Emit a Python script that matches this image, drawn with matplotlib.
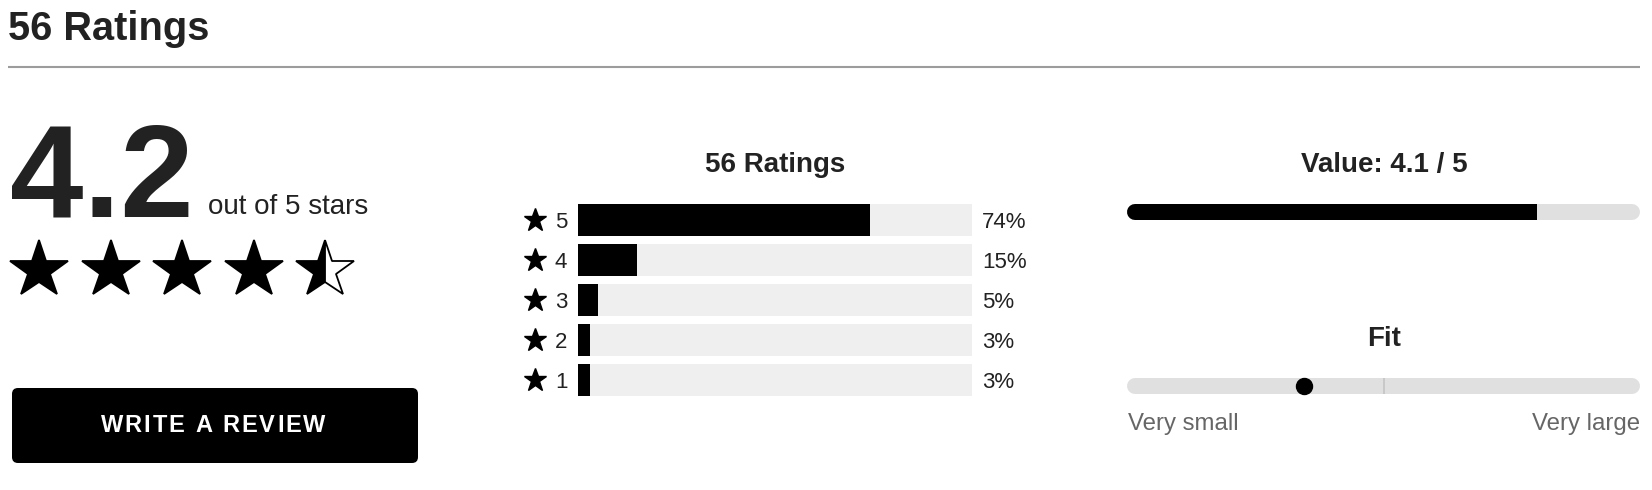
import matplotlib
matplotlib.use('Agg')
import matplotlib.pyplot as plt
from matplotlib.patches import FancyBboxPatch, Rectangle
from matplotlib.font_manager import FontProperties, findfont
from matplotlib.ft2font import FT2Font

# ---------------- data ----------------
total_ratings = 56
average_rating = 4.2
star_levels = [5, 4, 3, 2, 1]
star_percents = [74, 15, 5, 3, 3]
value_score = 4.1
value_max = 5
value_bar_level = 4.0          # fill of the value bar (0-5 scale)
fit_labels = ["Very small", "Very large"]
fit_position = 0.345           # 0 = very small, 1 = very large
button_label = "WRITE A REVIEW"

# ---------------- layout / style ----------------
W, H, DPI = 1652, 490, 100
FONT = 'Liberation Sans'
DARK = '#222222'
plt.rcParams['font.family'] = [FONT, 'DejaVu Sans']

fig = plt.figure(figsize=(W / DPI, H / DPI), dpi=DPI)
fig.patch.set_facecolor('white')


def px_axes(x0, y0, x1, y1):
    return fig.add_axes([x0 / W, 1 - y1 / H, (x1 - x0) / W, (y1 - y0) / H])


bg = px_axes(0, 0, W, H)
bg.set_xlim(0, W)
bg.set_ylim(H, 0)
bg.axis('off')

# header
bg.text(7.5, 39.5, f"{total_ratings} Ratings", fontsize=28.6, fontweight='bold',
        color=DARK, ha='left', va='baseline')
bg.plot([8, 1640], [67, 67], color='#9c9c9c', lw=1.5, solid_capstyle='butt')

# big average
bg.text(10, 216, f"{average_rating:.1f}", fontsize=95, fontweight='bold',
        color=DARK, ha='left', va='baseline')
bg.text(207.5, 214, "out of 5 stars", fontsize=20, color=DARK, ha='left', va='baseline')

# rating stars
sx0, step = 39, 71.6
ax_s = px_axes(0, 230, 420, 310)
ax_s.set_xlim(1 - sx0 / step, 1 + (420 - sx0) / step)
ax_s.set_ylim(-1, 1)
ax_s.axis('off')
for i in range(5):
    frac = min(max(average_rating - i, 0.0), 1.0)
    fs = 'full' if frac >= 1 else ('left' if frac > 0 else 'none')
    ax_s.plot([i + 1], [0], marker='*', ms=43.5, fillstyle=fs,
              markerfacecolor='black', markerfacecoloralt='white',
              markeredgecolor='black', markeredgewidth=1.3, ls='none')

# write a review button
bg.add_patch(FancyBboxPatch((12, 388), 406, 75,
                            boxstyle='round,pad=0,rounding_size=6',
                            fc='black', ec='none'))


def spaced_text(ax, xc, y_base, s, size, spacing, **kw):
    prop = FontProperties(family=FONT, weight='bold', size=size)
    font = FT2Font(findfont(prop))
    font.set_size(size, DPI)
    advs = [font.load_char(ord(ch)).linearHoriAdvance / 65536 for ch in s]
    total = sum(advs) + spacing * (len(s) - 1)
    x = xc - total / 2
    for ch, a in zip(s, advs):
        ax.text(x, y_base, ch, fontproperties=prop, ha='left', va='baseline', **kw)
        x += a + spacing


spaced_text(bg, 213, 432, button_label, 17, 1.95, color='white')

# ratings distribution
bg.text(775, 172, f"{total_ratings} Ratings", fontsize=20, fontweight='bold',
        color=DARK, ha='center', va='baseline')
ax_b = px_axes(578, 200, 972, 400)
ax_b.set_xlim(0, 100)
ax_b.set_ylim(0.5, 5.5)
ax_b.axis('off')
ax_b.barh(star_levels, [100] * len(star_levels), height=0.8, color='#efefef')
ax_b.barh(star_levels, star_percents, height=0.8, color='black')
for lvl, pct in zip(star_levels, star_percents):
    ax_b.plot([-10.9], [lvl], marker='*', ms=17, color='black', ls='none', clip_on=False)
    ax_b.text(-5.9, lvl - 0.19, str(lvl), fontsize=16, color=DARK,
              ha='left', va='baseline', clip_on=False)
    ax_b.text(102.5, lvl - 0.19, f"{pct}%", fontsize=16, color=DARK,
              ha='left', va='baseline', clip_on=False)

# value
bg.text(1384, 172, f"Value: {value_score} / {value_max}", fontsize=20,
        fontweight='bold', color=DARK, ha='center', va='baseline')
ax_v = px_axes(1127, 204, 1640, 220)
ax_v.set_xlim(0, value_max)
ax_v.set_ylim(-1, 1)
ax_v.axis('off')
cap = 8 / 513 * value_max
lw_pt = 16 * 72 / DPI
ax_v.plot([cap, value_max - cap], [0, 0], color='#e0e0e0', lw=lw_pt, solid_capstyle='round')
fill_line, = ax_v.plot([cap, max(value_bar_level, cap)], [0, 0], color='black',
                       lw=lw_pt, solid_capstyle='round')
fill_line.set_clip_path(Rectangle((0, -1), value_bar_level, 2, transform=ax_v.transData))

# fit
bg.text(1384, 346, "Fit", fontsize=20, fontweight='bold', color=DARK,
        ha='center', va='baseline')
ax_f = px_axes(1127, 378, 1640, 394)
ax_f.set_xlim(0, 1)
ax_f.set_ylim(-1, 1)
ax_f.axis('off')
capf = 8 / 513
ax_f.plot([capf, 1 - capf], [0, 0], color='#e0e0e0', lw=lw_pt, solid_capstyle='round')
ax_f.axvline(0.5, color='#c4c4c4', lw=1.2)
ax_f.plot([fit_position], [0], marker='o', ms=16 * 72 / DPI, color='black',
          ls='none', clip_on=False)
bg.text(1127.5, 430, fit_labels[0], fontsize=17.3, color='#666666', ha='left', va='baseline')
bg.text(1640, 430, fit_labels[1], fontsize=17.3, color='#666666', ha='right', va='baseline')

fig.savefig('out.png', dpi=DPI, facecolor='white')
